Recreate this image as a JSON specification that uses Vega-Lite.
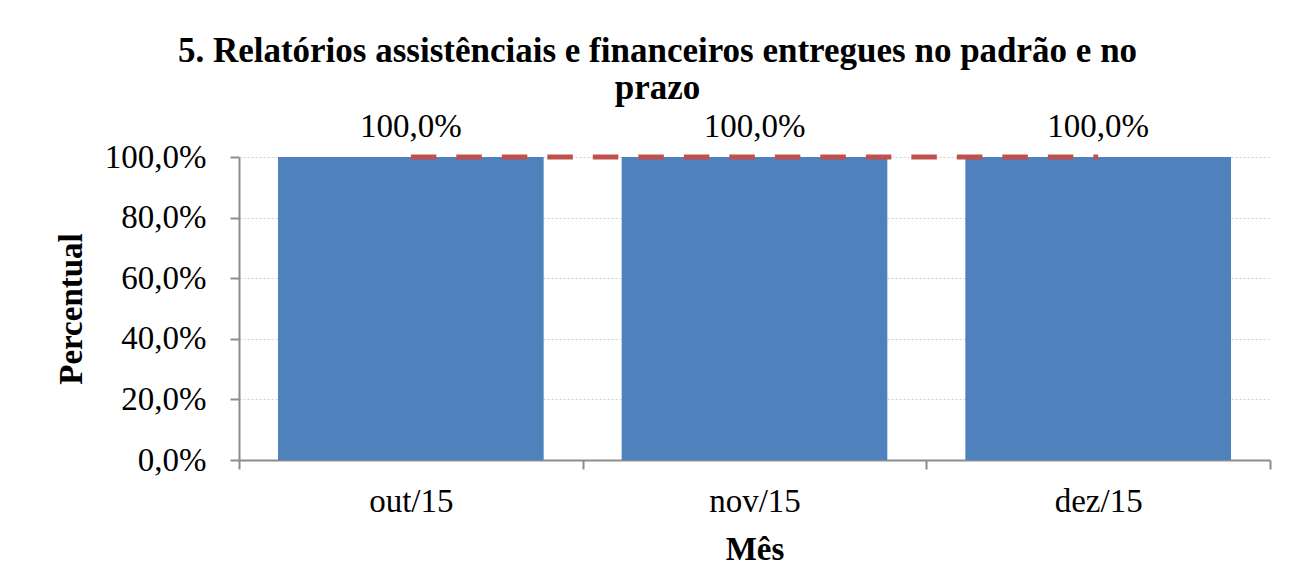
{
  "$schema": "https://vega.github.io/schema/vega-lite/v6.json",
  "autosize": {"type": "none"},
  "width": 1031,
  "height": 303,
  "padding": {"left": 239, "top": 157, "right": 24, "bottom": 110},
  "background": "white",
  "title": {
    "text": ["5. Relatórios assistênciais e financeiros  entregues no padrão e no", "prazo"],
    "font": "Liberation Serif",
    "fontSize": 35,
    "fontWeight": "bold",
    "color": "black",
    "anchor": "middle",
    "dx": -97,
    "lineHeight": 37,
    "offset": 5
  },
  "data": {
    "values": [
      {"mes": "out/15", "percentual": 1.0, "meta": 1.0},
      {"mes": "nov/15", "percentual": 1.0, "meta": 1.0},
      {"mes": "dez/15", "percentual": 1.0, "meta": 1.0}
    ]
  },
  "encoding": {
    "x": {
      "field": "mes",
      "type": "nominal",
      "sort": null,
      "scale": {"paddingInner": 0, "paddingOuter": 0},
      "axis": {
        "title": "Mês",
        "labelAngle": 0,
        "tickBand": "extent",
        "tickSize": 9,
        "labelPadding": 16,
        "titlePadding": 15,
        "grid": false
      }
    }
  },
  "layer": [
    {
      "mark": {"type": "bar", "color": "#4F81BD", "width": {"band": 0.773}},
      "encoding": {
        "y": {
          "field": "percentual",
          "type": "quantitative",
          "scale": {"domain": [0, 1]},
          "axis": {
            "title": "Percentual",
            "format": ".1%",
            "values": [0, 0.2, 0.4, 0.6, 0.8, 1.0],
            "tickSize": 9,
            "labelPadding": 24,
            "titlePadding": 16,
            "grid": true,
            "gridColor": "#D0D0D0",
            "gridDash": [2, 2],
            "gridWidth": 1
          }
        }
      }
    },
    {
      "mark": {"type": "text", "baseline": "alphabetic", "dy": -20, "font": "Liberation Serif", "fontSize": 33, "color": "black"},
      "encoding": {
        "y": {"field": "percentual", "type": "quantitative"},
        "text": {"field": "percentual", "type": "quantitative", "format": ".1%"}
      }
    },
    {
      "mark": {"type": "line", "color": "#C0504D", "strokeWidth": 5, "strokeDash": [25.5, 20], "strokeDashOffset": 0},
      "encoding": {
        "y": {"field": "meta", "type": "quantitative"}
      }
    }
  ],
  "config": {
    "locale": {"number": {"decimal": ",", "thousands": ".", "grouping": [3], "currency": ["R$", ""]}},
    "view": {"stroke": null},
    "axis": {
      "labelFont": "Liberation Serif",
      "labelFontSize": 33,
      "labelColor": "black",
      "titleFont": "Liberation Serif",
      "titleFontSize": 33,
      "titleFontWeight": "bold",
      "titleColor": "black",
      "domainColor": "#8C8C8C",
      "domainWidth": 2,
      "tickColor": "#8C8C8C",
      "tickWidth": 2
    }
  }
}
